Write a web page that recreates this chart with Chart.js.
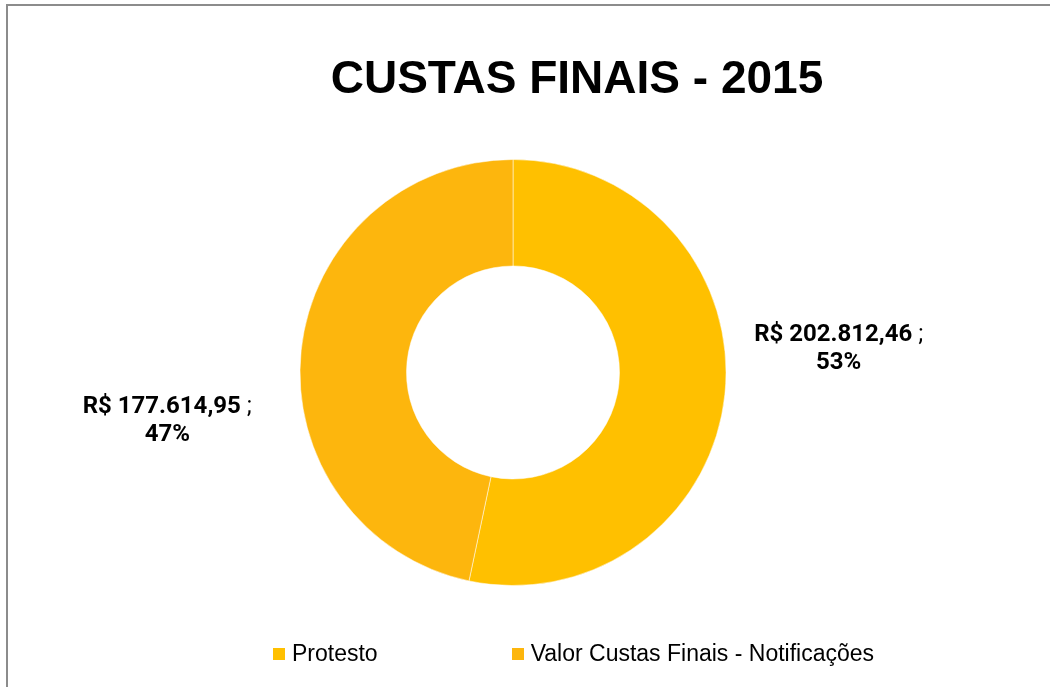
<!DOCTYPE html>
<html>
<head>
<meta charset="utf-8">
<script src="https://cdn.jsdelivr.net/npm/chart.js@4"></script>
<style>
  html, body { margin: 0; padding: 0; background: #fff; overflow: hidden; }
  body { width: 1050px; height: 687px; position: relative; }
  #frame { position: absolute; left: 6px; top: 4px; width: 1100px; height: 720px; border: 2px solid #8c8c8c; box-sizing: border-box; }
  #chartWrap { position: absolute; left: 0; top: 0; width: 1050px; height: 687px; }
  #title { position: absolute; left: 0; width: 1154px; top: 49px; text-align: center;
           font: bold 46px "Liberation Sans", Arial, sans-serif; color: #000; line-height: 56px; }
  #legend { position: absolute; left: 273px; top: 640px; display: flex; align-items: center;
            font: 23px "Liberation Sans", Arial, sans-serif; color: #000; }
  #legend .item { display: flex; align-items: center; margin-right: 134px; }
  #legend .box { width: 12px; height: 12px; margin-right: 7px; }
</style>
</head>
<body>
<div id="frame"></div>
<div id="chartWrap"><canvas id="custasChart" width="1050" height="687"></canvas></div>
<div id="title">CUSTAS FINAIS - 2015</div>
<div id="legend"></div>
<script>
const chartTitle = 'CUSTAS FINAIS - 2015'
const categories = ['Protesto', 'Valor Custas Finais - Notificações']
const valores = [202812.46, 177614.95]
const cores = ['#FFC000', '#FDB60D']

const total = valores.reduce((a, b) => a + b, 0)
const fmtMoeda = v => 'R$ ' + v.toLocaleString('pt-BR', {minimumFractionDigits: 2, maximumFractionDigits: 2})

// labels outside the ring, nudged roughly where Excel put them
const labelNudge = [{dx: 90, dy: -51}, {dx: -110, dy: 70}]

const outsideLabels = {
    id: 'outsideLabels',
    afterDatasetsDraw(chart) {
        const ctx = chart.ctx
        const meta = chart.getDatasetMeta(0)
        meta.data.forEach((arc, i) => {
            const p = arc.getProps(['x', 'y', 'startAngle', 'endAngle', 'outerRadius'], true)
            const mid = (p.startAngle + p.endAngle) / 2
            const r = p.outerRadius + 24
            const cx = p.x + Math.cos(mid) * r + labelNudge[i].dx
            const cy = p.y + Math.sin(mid) * r + labelNudge[i].dy
            const v = valores[i]
            const pct = Math.round(v / total * 100) + '%'
            const boldTxt = fmtMoeda(v)
            const sepTxt = ' ;'
            ctx.save()
            ctx.fillStyle = '#000'
            ctx.textBaseline = 'alphabetic'
            ctx.font = 'bold 24px Roboto'
            const wb = ctx.measureText(boldTxt).width
            ctx.font = '24px Roboto'
            const ws = ctx.measureText(sepTxt).width
            const x0 = cx - (wb + ws) / 2
            const base1 = cy - 5
            ctx.textAlign = 'left'
            ctx.font = 'bold 24px Roboto'
            ctx.fillText(boldTxt, x0, base1)
            ctx.font = '24px Roboto'
            ctx.fillText(sepTxt, x0 + wb, base1)
            ctx.font = 'bold 24px Roboto'
            ctx.textAlign = 'center'
            ctx.fillText(pct, cx, base1 + 28)
            ctx.restore()
        })
    }
}

const custasChart = new Chart(document.getElementById('custasChart').getContext('2d'), {
    type: 'doughnut',
    data: {
        labels: categories,
        datasets: [{
            data: valores,
            backgroundColor: cores,
            borderColor: 'rgba(255,255,255,0.5)',
            borderWidth: 1,
            hoverOffset: 0
        }]
    },
    options: {
        responsive: false,
        animation: false,
        cutout: '50%',
        layout: { padding: { top: 159, bottom: 101, left: 0, right: 24 } },
        plugins: {
            legend: { display: false },
            title: { display: false },
            tooltip: { enabled: false }
        }
    },
    plugins: [outsideLabels]
})

const legendEl = document.getElementById('legend')
categories.forEach((c, i) => {
    const item = document.createElement('div')
    item.className = 'item'
    const box = document.createElement('span')
    box.className = 'box'
    box.style.background = cores[i]
    const txt = document.createElement('span')
    txt.textContent = c
    item.appendChild(box)
    item.appendChild(txt)
    legendEl.appendChild(item)
})
</script>
</body>
</html>
